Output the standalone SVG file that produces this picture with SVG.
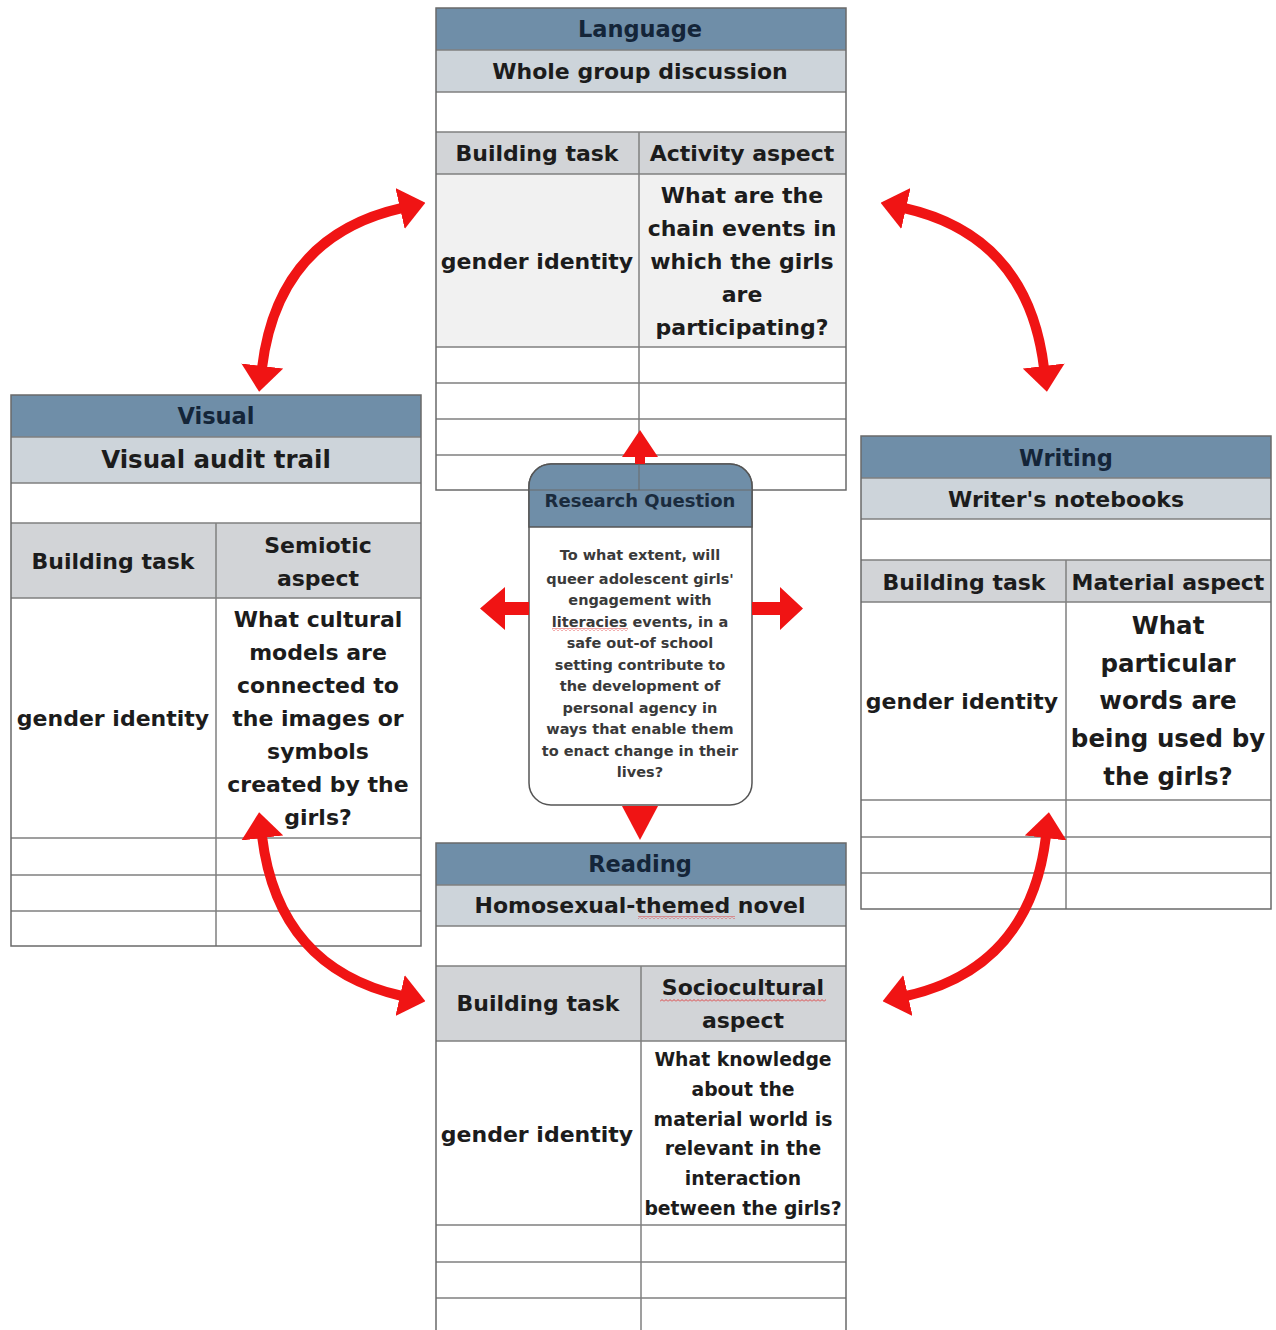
<svg xmlns="http://www.w3.org/2000/svg" width="1276" height="1330" viewBox="0 0 1276 1330">
<style>
.hd{fill:#6f8ea8}
.sb{fill:#cdd4da}
.bt{fill:#d2d4d7}
.ct{fill:#f1f1f1}
.wh{fill:#ffffff}
.ln{stroke:#808080;stroke-width:1.5;fill:none}
.bd{stroke:#6a6a6a;stroke-width:1.5;fill:none}
text{font-family:"DejaVu Sans","Liberation Sans",sans-serif;font-weight:bold;text-anchor:middle;dominant-baseline:central;fill:#1c1c1c}
.t22{font-size:22px}
.t25{font-size:24.5px}
.t19{font-size:18.8px}
.th{font-size:22.5px;fill:#142539}
.rq{font-size:14.5px;fill:#3a3a3a}
.rqh{font-size:18px;fill:#1a2b3d}
.arr{fill:#f01414}
.cv{stroke:#f01414;stroke-width:10;fill:none}
</style>
<defs>
<marker id="ah" markerUnits="userSpaceOnUse" markerWidth="26" markerHeight="42" viewBox="0 0 26 42" refX="2" refY="21" orient="auto-start-reverse">
<path d="M0,0 L26,21 L0,42 z" fill="#f01414"/>
</marker>
<pattern id="sq" width="4" height="3" patternUnits="userSpaceOnUse">
<path d="M0,2.5 L2,0.5 L4,2.5" stroke="#e03030" fill="none" stroke-width="0.9"/>
</pattern>
</defs>
<rect width="1276" height="1330" fill="#ffffff"/>

<g id="language">
<rect class="hd" x="436" y="8" width="410" height="42"/>
<rect class="sb" x="436" y="50" width="410" height="42"/>
<rect class="wh" x="436" y="92" width="410" height="40"/>
<rect class="bt" x="436" y="132" width="410" height="42"/>
<rect class="ct" x="436" y="174" width="410" height="173"/>
<rect class="wh" x="436" y="347" width="410" height="143"/>
<path class="ln" d="M436,50H846M436,92H846M436,132H846M436,174H846M436,347H846M436,383H846M436,419H846M436,455H846M639,132V490"/>
<rect class="bd" x="436" y="8" width="410" height="482"/>
<text class="th" x="640" y="29">Language</text>
<text class="t22" x="640" y="71">Whole group discussion</text>
<text class="t22" x="537" y="153">Building task</text>
<text class="t22" x="742" y="153">Activity aspect</text>
<text class="t22" x="537" y="261">gender identity</text>
<text class="t22" x="742" y="195">What are the</text>
<text class="t22" x="742" y="228">chain events in</text>
<text class="t22" x="742" y="261">which the girls</text>
<text class="t22" x="742" y="294">are</text>
<text class="t22" x="742" y="327">participating?</text>
</g>

<g id="visual">
<rect class="hd" x="11" y="395" width="410" height="42"/>
<rect class="sb" x="11" y="437" width="410" height="46"/>
<rect class="wh" x="11" y="483" width="410" height="40"/>
<rect class="bt" x="11" y="523" width="410" height="75"/>
<rect class="wh" x="11" y="598" width="410" height="348"/>
<path class="ln" d="M11,437H421M11,483H421M11,523H421M11,598H421M11,838H421M11,875H421M11,911H421M216,523V946"/>
<rect class="bd" x="11" y="395" width="410" height="551"/>
<text class="th" x="216" y="416">Visual</text>
<text class="t25" x="216" y="459">Visual audit trail</text>
<text class="t22" x="113" y="561">Building task</text>
<text class="t22" x="318" y="545">Semiotic</text>
<text class="t22" x="318" y="578">aspect</text>
<text class="t22" x="113" y="718">gender identity</text>
<text class="t22" x="318" y="619">What cultural</text>
<text class="t22" x="318" y="652">models are</text>
<text class="t22" x="318" y="685">connected to</text>
<text class="t22" x="318" y="718">the images or</text>
<text class="t22" x="318" y="751">symbols</text>
<text class="t22" x="318" y="784">created by the</text>
<text class="t22" x="318" y="817">girls?</text>
</g>

<g id="writing">
<rect class="hd" x="861" y="436" width="410" height="42"/>
<rect class="sb" x="861" y="478" width="410" height="41"/>
<rect class="wh" x="861" y="519" width="410" height="41"/>
<rect class="bt" x="861" y="560" width="410" height="42"/>
<rect class="wh" x="861" y="602" width="410" height="307"/>
<path class="ln" d="M861,478H1271M861,519H1271M861,560H1271M861,602H1271M861,800H1271M861,837H1271M861,873H1271M1066,560V909"/>
<rect class="bd" x="861" y="436" width="410" height="473"/>
<text class="th" x="1066" y="458">Writing</text>
<text class="t22" x="1066" y="499">Writer's notebooks</text>
<text class="t22" x="964" y="582">Building task</text>
<text class="t22" x="1168" y="582">Material aspect</text>
<text class="t22" x="962" y="701">gender identity</text>
<text class="t25" x="1168" y="625">What</text>
<text class="t25" x="1168" y="663">particular</text>
<text class="t25" x="1168" y="700">words are</text>
<text class="t25" x="1168" y="738">being used by</text>
<text class="t25" x="1168" y="776">the girls?</text>
</g>

<g id="reading">
<rect class="hd" x="436" y="843" width="410" height="42"/>
<rect class="sb" x="436" y="885" width="410" height="41"/>
<rect class="wh" x="436" y="926" width="410" height="40"/>
<rect class="bt" x="436" y="966" width="410" height="75"/>
<rect class="wh" x="436" y="1041" width="410" height="291"/>
<path class="ln" d="M436,885H846M436,926H846M436,966H846M436,1041H846M436,1225H846M436,1262H846M436,1298H846M641,966V1332"/>
<rect class="bd" x="436" y="843" width="410" height="492"/>
<text class="th" x="640" y="864">Reading</text>
<text class="t22" x="640" y="905">Homosexual-themed novel</text>
<rect x="638" y="916" width="97" height="3" fill="url(#sq)"/>
<text class="t22" x="538" y="1003">Building task</text>
<text class="t22" x="743" y="987">Sociocultural</text>
<rect x="660" y="999" width="166" height="3" fill="url(#sq)"/>
<text class="t22" x="743" y="1020">aspect</text>
<text class="t22" x="537" y="1134">gender identity</text>
<text class="t19" x="743" y="1059">What knowledge</text>
<text class="t19" x="743" y="1089">about the</text>
<text class="t19" x="743" y="1119">material world is</text>
<text class="t19" x="743" y="1148">relevant in the</text>
<text class="t19" x="743" y="1178">interaction</text>
<text class="t19" x="743" y="1208">between the girls?</text>
</g>

<g id="research-question">
<rect x="529" y="464" width="223" height="341" rx="22" fill="#ffffff" stroke="#555555" stroke-width="1.5"/>
<path d="M529,527V486A22,22 0 0 1 551,464H730A22,22 0 0 1 752,486V527Z" class="hd" stroke="#555555" stroke-width="1.5"/>
<path d="M639,464V490M529,490H752" stroke="#6a6a6a" stroke-width="1" fill="none"/>
<text class="rqh" x="640" y="500">Research Question</text>
<text class="rq" x="640" y="555">To what extent, will</text>
<text class="rq" x="640" y="579">queer adolescent girls'</text>
<text class="rq" x="640" y="600">engagement with</text>
<text class="rq" x="640" y="622">literacies events, in a</text>
<rect x="552" y="628" width="76" height="3" fill="url(#sq)"/>
<text class="rq" x="640" y="643">safe out-of school</text>
<text class="rq" x="640" y="665">setting contribute to</text>
<text class="rq" x="640" y="686">the development of</text>
<text class="rq" x="640" y="708">personal agency in</text>
<text class="rq" x="640" y="729">ways that enable them</text>
<text class="rq" x="640" y="751">to enact change in their</text>
<text class="rq" x="640" y="772">lives?</text>
</g>

<g id="connectors">
<polygon class="arr" points="635,464 635,457 622,457 640,430 658,457 645,457 645,464"/>
<polygon class="arr" points="622,806 658,806 640,840"/>
<polygon class="arr" points="529,602 505,602 505,587 480,608.5 505,630 505,615 529,615"/>
<polygon class="arr" points="752,602 780,602 780,587 803,608.5 780,630 780,615 752,615"/>
<path class="cv" d="M402,208 Q278,236 262,368" marker-start="url(#ah)" marker-end="url(#ah)"/>
<path class="cv" d="M904,208 Q1028,236 1044,368" marker-start="url(#ah)" marker-end="url(#ah)"/>
<path class="cv" d="M262,836 Q278,968 402,996" marker-start="url(#ah)" marker-end="url(#ah)"/>
<path class="cv" d="M1046,836 Q1030,968 906,996" marker-start="url(#ah)" marker-end="url(#ah)"/>
</g>
</svg>
